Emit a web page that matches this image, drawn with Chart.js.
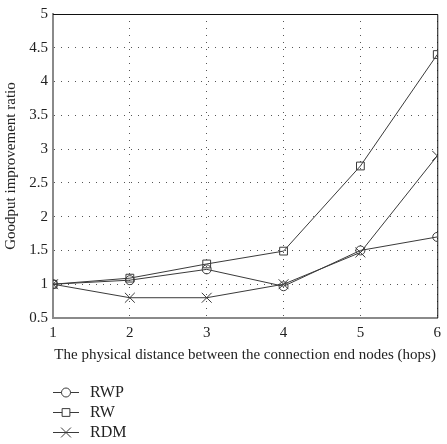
<!DOCTYPE html>
<html>
<head>
<meta charset="utf-8">
<script src="https://cdn.jsdelivr.net/npm/chart.js@4.4.1/dist/chart.umd.min.js"></script>
<style>
  html, body { margin: 0; padding: 0; background: #fff; }
  #wrap { width: 447px; height: 444px; }
</style>
</head>
<body>
<div id="wrap"><canvas id="goodputCanvas" width="447" height="444"></canvas></div>
<script>
// hops between connection end nodes
const hops = [1, 2, 3, 4, 5, 6];
const rwp = [1.0, 1.06, 1.22, 0.97, 1.5, 1.7];
const rw = [1.0, 1.09, 1.30, 1.49, 2.75, 4.4];
const rdm = [1.0, 0.80, 0.80, 1.0, 1.47, 2.9];
const yTicks = [0.5, 1, 1.5, 2, 2.5, 3, 3.5, 4, 4.5, 5];

const fontFamily = "'Liberation Serif', 'DejaVu Serif', serif";
const lineColor = "#3a3a3a";

function toPoints(values) {
    return hops.map(function (h, i) { return { x: h, y: values[i] }; });
}

function series(label, values, style, radius) {
    return {
        label: label,
        data: toPoints(values),
        borderColor: lineColor,
        borderWidth: 1,
        backgroundColor: "transparent",
        pointStyle: style,
        pointRadius: radius,
        pointBorderColor: lineColor,
        pointBackgroundColor: "transparent",
        pointBorderWidth: 1,
        tension: 0
    };
}

// top/right frame lines plus a stacked legend under the axis title
const framePlugin = {
    id: "frameAndLegend",
    afterDraw: function (chart) {
        const ctx = chart.ctx;
        const a = chart.chartArea;
        ctx.save();
        ctx.strokeStyle = "#111";
        ctx.lineWidth = 1;
        ctx.beginPath();
        ctx.moveTo(a.left, a.top + 0.5);
        ctx.lineTo(a.right + 0.5, a.top + 0.5);
        ctx.lineTo(a.right + 0.5, a.bottom);
        ctx.stroke();

        ctx.font = "16px " + fontFamily;
        ctx.textBaseline = "middle";
        chart.data.datasets.forEach(function (ds, i) {
            const y = a.bottom + 74 + i * 20;
            const x0 = a.left;
            ctx.strokeStyle = lineColor;
            ctx.lineWidth = 1;
            ctx.beginPath();
            ctx.moveTo(x0, y + 0.5);
            ctx.lineTo(x0 + 26, y + 0.5);
            ctx.stroke();
            ctx.fillStyle = "#fff";
            Chart.helpers.drawPoint(ctx, {
                pointStyle: ds.pointStyle,
                radius: ds.pointRadius,
                rotation: 0,
                borderWidth: 1
            }, x0 + 13, y + 0.5);
            ctx.fillStyle = "#222";
            ctx.fillText(ds.label, x0 + 37, y + 1);
        });
        ctx.restore();
    }
};

const ctx = document.getElementById("goodputCanvas");

const goodputChart = new Chart(ctx, {
    type: "line",
    data: {
        datasets: [
            series("RWP", rwp, "circle", 4.5),
            series("RW", rw, "rect", 5.5),
            series("RDM", rdm, "crossRot", 7)
        ]
    },
    options: {
        responsive: false,
        animation: false,
        layout: { padding: { top: 11, right: 7, bottom: 71, left: 0 } },
        plugins: {
            legend: { display: false },
            tooltip: { enabled: false }
        },
        scales: {
            x: {
                type: "linear",
                min: 1,
                max: 6,
                afterFit: function (scale) { scale.height = 55; },
                ticks: {
                    stepSize: 1,
                    color: "#222",
                    padding: 6,
                    font: { family: fontFamily, size: 15 }
                },
                grid: {
                    color: "#555",
                    lineWidth: 1,
                    drawTicks: false
                },
                border: { color: "#8a8a8a", width: 2, dash: [1, 6] },
                title: {
                    display: true,
                    text: "The physical distance between the connection end nodes (hops)",
                    color: "#222",
                    padding: { top: 0, bottom: 9 },
                    font: { family: fontFamily, size: 15 }
                }
            },
            y: {
                min: 0.5,
                max: 5,
                afterFit: function (scale) { scale.width = 53; },
                afterBuildTicks: function (scale) {
                    scale.ticks = yTicks.map(function (v) { return { value: v }; });
                },
                ticks: {
                    color: "#222",
                    padding: 5,
                    font: { family: fontFamily, size: 15 },
                    callback: function (value) { return String(value); }
                },
                grid: {
                    color: "#555",
                    lineWidth: 1,
                    drawTicks: false
                },
                border: { color: "#8a8a8a", width: 2, dash: [1, 6] },
                title: {
                    display: true,
                    text: "Goodput improvement ratio",
                    color: "#222",
                    padding: { top: 2, bottom: 0 },
                    font: { family: fontFamily, size: 15 }
                }
            }
        }
    },
    plugins: [framePlugin]
});
</script>
</body>
</html>
